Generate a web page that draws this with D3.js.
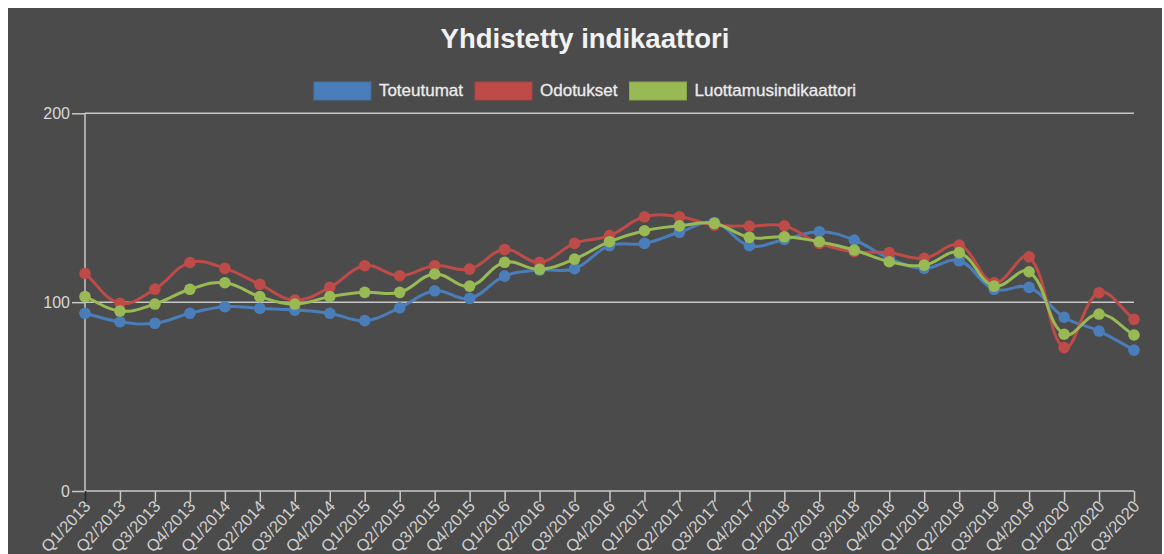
<!DOCTYPE html>
<html>
<head>
<meta charset="utf-8">
<script src="https://cdn.jsdelivr.net/npm/d3@7"></script>
<style>
  html, body { margin: 0; padding: 0; background: #ffffff; }
  svg { display: block; }
</style>
</head>
<body>
<svg id="chart" width="1164" height="554"></svg>
<script>
const categories = [
  "Q1/2013","Q2/2013","Q3/2013","Q4/2013",
  "Q1/2014","Q2/2014","Q3/2014","Q4/2014",
  "Q1/2015","Q2/2015","Q3/2015","Q4/2015",
  "Q1/2016","Q2/2016","Q3/2016","Q4/2016",
  "Q1/2017","Q2/2017","Q3/2017","Q4/2017",
  "Q1/2018","Q2/2018","Q3/2018","Q4/2018",
  "Q1/2019","Q2/2019","Q3/2019","Q4/2019",
  "Q1/2020","Q2/2020","Q3/2020"
];
const toteutumat = [94.1, 89.6, 88.8, 94.1, 97.6, 96.7, 95.8, 94.1, 90.2, 97.0, 106.0,
  102.0, 113.8, 117.0, 117.7, 129.9, 131.1, 137.0, 142.2, 129.9, 133.2,
  137.3, 132.9, 123.2, 117.9, 121.9, 106.8, 107.8, 92.0, 84.7, 74.6];
const odotukset = [115.2, 99.4, 106.9, 121.0, 117.9, 109.4, 101.1, 107.8, 119.3, 114.0, 119.3,
  117.5, 127.9, 121.1, 131.1, 135.2, 145.2, 145.2, 140.8, 140.3, 140.4,
  131.1, 126.7, 126.2, 123.2, 130.2, 110.3, 124.0, 75.9, 105.0, 90.9];
const luottamus = [102.9, 95.3, 99.0, 106.8, 110.3, 102.9, 99.0, 102.9, 105.2, 105.2, 114.9,
  108.5, 121.1, 117.4, 122.8, 132.0, 137.8, 140.4, 141.7, 134.3, 134.6,
  132.0, 127.6, 121.4, 119.6, 126.2, 108.5, 116.1, 83.0, 93.7, 82.6];
const seriesNames = ["Toteutumat", "Odotukset", "Luottamusindikaattori"];
const seriesColors = ["#4a7ebb", "#be4b48", "#98b954"];
const yTicks = [0, 100, 200];
const title = "Yhdistetty indikaattori";

const series = [toteutumat, odotukset, luottamus];

const svg = d3.select("#chart");
const W = 1164, H = 554;
const plot = { left: 85, right: 1134, top: 113.3, bottom: 491 };

// background panel
svg.append("rect").attr("x", 8).attr("y", 8).attr("width", 1154).attr("height", H - 8)
  .attr("fill", "#4b4b4b");

const x = d3.scalePoint().domain(categories).range([plot.left, plot.right]);
const y = d3.scaleLinear().domain([0, 200]).range([plot.bottom, plot.top]);

const FONT = "'Liberation Sans', Arial, Helvetica, sans-serif";

// title
svg.append("text").attr("x", 585).attr("y", 48).attr("text-anchor", "middle")
  .attr("font-family", FONT).attr("font-weight", "bold").attr("font-size", "27.5px")
  .attr("fill", "#f2f2f2").text(title);

// legend
const legend = svg.append("g");
const items = legend.selectAll("g").data(seriesNames).join("g");
items.append("rect").attr("width", 57).attr("height", 18).attr("y", 82)
  .attr("fill", (d, i) => seriesColors[i])
  .attr("stroke", (d, i) => d3.color(seriesColors[i]).darker(0.3)).attr("stroke-width", 1);
items.append("text").attr("y", 96).attr("x", 65)
  .attr("font-family", FONT).attr("font-size", "17px").attr("fill", "#ececec")
  .attr("stroke", "#ececec").attr("stroke-width", 0.3)
  .text(d => d);
let widths = [];
items.each(function () { widths.push(65 + this.querySelector("text").getComputedTextLength()); });
const gap = 12;
const total = d3.sum(widths) + gap * (widths.length - 1);
let cx = 585 - total / 2;
items.each(function (d, i) {
  d3.select(this).attr("transform", `translate(${cx},0)`);
  cx += widths[i] + gap;
});

// y axis
const yAxis = d3.axisLeft(y).tickValues(yTicks).tickSize(13).tickPadding(2).tickFormat(d3.format("d"));
const gy = svg.append("g").attr("transform", `translate(${plot.left},0)`).call(yAxis);
gy.select(".domain").remove();
gy.selectAll(".tick line").attr("stroke", "#c8c8c8").attr("stroke-width", 1.5);
gy.selectAll(".tick text").attr("font-family", FONT).attr("font-size", "16px").attr("fill", "#d8d8d8");

// grid lines
svg.append("g").selectAll("line").data(yTicks).join("line")
  .attr("x1", plot.left).attr("x2", plot.right)
  .attr("y1", d => y(d)).attr("y2", d => y(d))
  .attr("stroke", "#c8c8c8").attr("stroke-width", 1.5);

// y axis line
svg.append("line").attr("x1", plot.left).attr("x2", plot.left)
  .attr("y1", plot.top).attr("y2", plot.bottom)
  .attr("stroke", "#c8c8c8").attr("stroke-width", 1.5);

// x axis
const xAxis = d3.axisBottom(x).tickSize(11).tickPadding(2);
const gx = svg.append("g").attr("transform", `translate(0,${plot.bottom})`).call(xAxis);
gx.select(".domain").remove();
gx.selectAll(".tick line").attr("stroke", (d, i) => i === 0 ? "#262626" : "#c8c8c8").attr("stroke-width", 1.5);
gx.selectAll(".tick text")
  .attr("font-family", FONT).attr("font-size", "16.5px").attr("fill", "#d0d0d0")
  .attr("text-anchor", "end").attr("dy", null).attr("y", 0)
  .attr("transform", "translate(6,16) rotate(-47)");

// Chart.js-style spline (tension 0.4)
function splinePath(values) {
  const pts = values.map((v, i) => ({ x: x(categories[i]), y: y(v) }));
  const t = 0.4;
  pts.forEach((p, i) => {
    const prev = pts[i - 1] || p, next = pts[i + 1] || p;
    const d01 = Math.hypot(p.x - prev.x, p.y - prev.y);
    const d12 = Math.hypot(next.x - p.x, next.y - p.y);
    let s01 = d01 / (d01 + d12), s12 = d12 / (d01 + d12);
    if (isNaN(s01)) s01 = 0; if (isNaN(s12)) s12 = 0;
    const fa = t * s01, fb = t * s12;
    p.c1x = p.x - fa * (next.x - prev.x); p.c1y = p.y - fa * (next.y - prev.y);
    p.c2x = p.x + fb * (next.x - prev.x); p.c2y = p.y + fb * (next.y - prev.y);
  });
  const path = d3.path();
  path.moveTo(pts[0].x, pts[0].y);
  for (let i = 1; i < pts.length; i++) {
    path.bezierCurveTo(pts[i - 1].c2x, pts[i - 1].c2y, pts[i].c1x, pts[i].c1y, pts[i].x, pts[i].y);
  }
  return path.toString();
}

[0, 1, 2].forEach(si => {
  const g = svg.append("g");
  g.append("path").attr("d", splinePath(series[si]))
    .attr("fill", "none").attr("stroke", seriesColors[si]).attr("stroke-width", 3);
  g.selectAll("circle").data(series[si]).join("circle")
    .attr("cx", (d, i) => x(categories[i])).attr("cy", d => y(d)).attr("r", 5.8)
    .attr("fill", seriesColors[si]);
});
</script>
</body>
</html>
